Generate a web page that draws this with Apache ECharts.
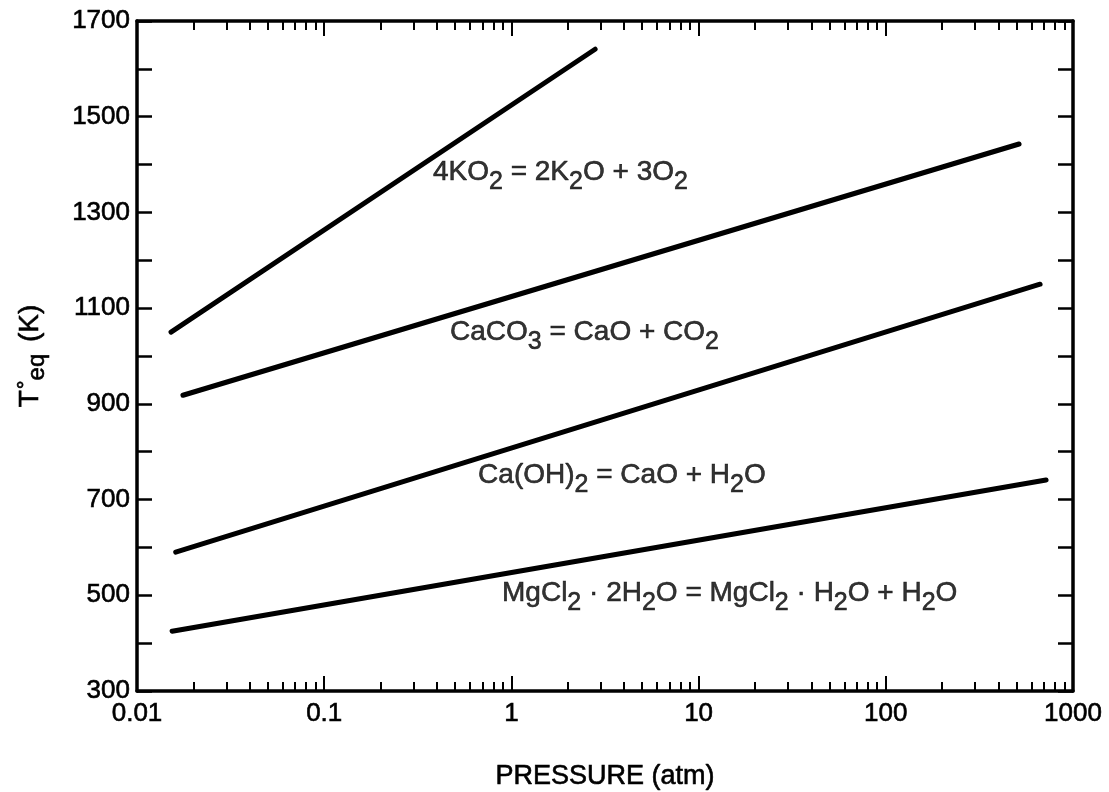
<!DOCTYPE html>
<html>
<head>
<meta charset="utf-8">
<script src="https://cdn.jsdelivr.net/npm/echarts@6/dist/echarts.min.js"></script>
<style>
  html, body { margin: 0; padding: 0; background: #fff; }
  #chart { width: 1109px; height: 792px; }
</style>
</head>
<body>
<div id="chart"></div>
<script>
// 压力 (atm) 和平衡温度 (K)，每条线取两端
const pKO2 = [0.0152, 2.8];
const tKO2 = [1050, 1641];
const pCaCO3 = [0.0176, 515];
const tCaCO3 = [918, 1443];
const pCaOH2 = [0.0161, 667];
const tCaOH2 = [590, 1150];
const pMgCl2 = [0.0154, 718];
const tMgCl2 = [425, 741];

// 反应式标注 (左端位置)
const labelP = [0.381, 0.47, 0.664, 0.891];
const labelT = [1384, 1050, 751, 505];
const labelText = [
  '4KO{s|2} = 2K{s|2}O + 3O{s|2}',
  'CaCO{s|3} = CaO + CO{s|2}',
  'Ca(OH){s|2} = CaO + H{s|2}O',
  'MgCl{s|2} · 2H{s|2}O = MgCl{s|2} · H{s|2}O + H{s|2}O'
];

// 刻度
const xTickLabels = ['0.01', '0.1', '1', '10', '100', '1000'];
const xMinorSteps = [2, 3, 4, 5, 6, 7, 8, 9];
const yLabelEvery = 200;

const FONT = 'Liberation Sans';
const BLACK = '#000';

const minorVals = [];
for (let d = -2; d < 3; d++) {
  xMinorSteps.forEach(function (k) {
    minorVals.push(d + Math.log10(k));
  });
}

function toLog(ps, ts) {
  return ps.map(function (p, i) { return [Math.log10(p), ts[i]]; });
}

function lineSeries(ps, ts) {
  return {
    type: 'line',
    data: toLog(ps, ts),
    symbol: 'none',
    silent: true,
    lineStyle: { color: BLACK, width: 5, cap: 'round' }
  };
}

function xAxisBase(pos) {
  return {
    type: 'value',
    position: pos,
    min: -2,
    max: 3,
    interval: 1,
    splitLine: { show: false }
  };
}

// 字稍微加粗一点，像扫描件
const heavy = { textBorderColor: BLACK, textBorderWidth: 0.6 };

const xAxes = [
  // 底部主刻度 + 标签
  Object.assign(xAxisBase('bottom'), {
    axisLine: { onZero: false, lineStyle: { color: BLACK, width: 3.5 } },
    axisTick: { inside: true, length: 15, lineStyle: { color: BLACK, width: 2 } },
    axisLabel: Object.assign({
      color: BLACK, fontFamily: FONT, fontSize: 26, margin: 10,
      formatter: function (v) { return xTickLabels[Math.round(v) + 2]; }
    }, heavy),
    name: 'PRESSURE (atm)',
    nameLocation: 'middle',
    nameGap: 72,
    nameTextStyle: Object.assign({ color: BLACK, fontFamily: FONT, fontSize: 27 }, heavy)
  }),
  // 底部次刻度
  Object.assign(xAxisBase('bottom'), {
    axisLine: { show: false, onZero: false },
    axisTick: { inside: true, length: 9, customValues: minorVals, lineStyle: { color: BLACK, width: 2 } },
    axisLabel: { show: false }
  }),
  // 顶部
  Object.assign(xAxisBase('top'), {
    axisLine: { onZero: false, lineStyle: { color: BLACK, width: 3.5 } },
    axisTick: { inside: true, length: 15, lineStyle: { color: BLACK, width: 2 } },
    axisLabel: { show: false }
  }),
  Object.assign(xAxisBase('top'), {
    axisLine: { show: false, onZero: false },
    axisTick: { inside: true, length: 9, customValues: minorVals, lineStyle: { color: BLACK, width: 2 } },
    axisLabel: { show: false }
  })
];

const yAxes = [
  {
    type: 'value',
    position: 'left',
    min: 300,
    max: 1700,
    interval: 100,
    splitLine: { show: false },
    axisLine: { onZero: false, lineStyle: { color: BLACK, width: 3.5 } },
    axisTick: { inside: true, length: 15, lineStyle: { color: BLACK, width: 2.5 } },
    axisLabel: Object.assign({
      color: BLACK, fontFamily: FONT, fontSize: 26, margin: 7,
      formatter: function (v) { return (v - 300) % yLabelEvery === 0 ? String(v) : ''; }
    }, heavy),
    name: 'T{d|°}{e|eq} (K)',
    nameLocation: 'middle',
    nameRotate: 90,
    nameGap: 88,
    nameTextStyle: Object.assign({
      color: BLACK, fontFamily: FONT, fontSize: 28,
      rich: {
        d: Object.assign({ fontFamily: FONT, fontSize: 22, color: BLACK, padding: [0, 0, 6, 1] }, heavy),
        e: Object.assign({ fontFamily: FONT, fontSize: 24, color: BLACK, padding: [14, 4, 0, 0] }, heavy)
      }
    }, heavy)
  },
  {
    type: 'value',
    position: 'right',
    min: 300,
    max: 1700,
    interval: 100,
    splitLine: { show: false },
    axisLine: { onZero: false, lineStyle: { color: BLACK, width: 3.5 } },
    axisTick: { inside: true, length: 15, lineStyle: { color: BLACK, width: 2.5 } },
    axisLabel: { show: false }
  }
];

const series = [
  lineSeries(pKO2, tKO2),
  lineSeries(pCaCO3, tCaCO3),
  lineSeries(pCaOH2, tCaOH2),
  lineSeries(pMgCl2, tMgCl2),
  // 标注
  {
    type: 'scatter',
    silent: true,
    symbolSize: 0,
    data: labelP.map(function (p, i) {
      return { value: [Math.log10(p), labelT[i]], label: { formatter: labelText[i], color: BLACK } };
    }),
    label: Object.assign({
      show: true,
      position: 'right',
      distance: 0,
      color: BLACK,
      fontFamily: FONT,
      fontSize: 28,
      rich: {
        s: Object.assign({ fontFamily: FONT, fontSize: 25, color: BLACK, padding: [20, 0, 0, 0] }, heavy)
      }
    }, heavy)
  }
];

const chart = echarts.init(document.getElementById('chart'), null, { renderer: 'canvas' });
chart.setOption({
  backgroundColor: '#fff',
  animation: false,
  grid: { left: 137, right: 36, top: 21, bottom: 101, containLabel: false, outerBoundsMode: 'none' },
  xAxis: xAxes,
  yAxis: yAxes,
  series: series
});
</script>
</body>
</html>
